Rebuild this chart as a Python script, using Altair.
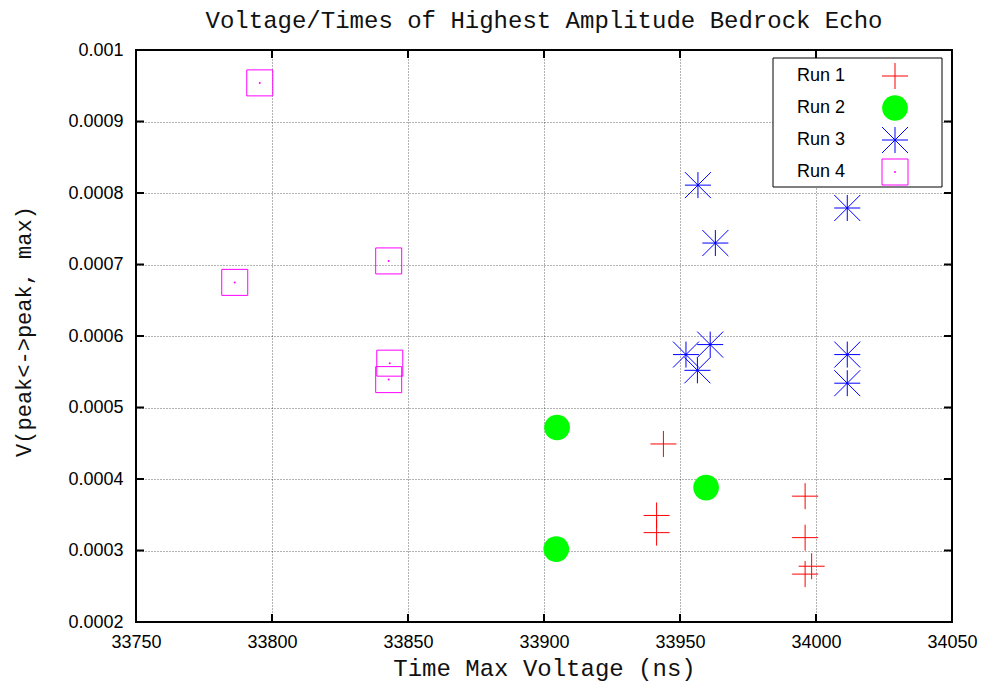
import altair as alt
import pandas as pd

# ---------------- data ----------------
runs = ["Run 1", "Run 2", "Run 3", "Run 4"]

run1_x = [33943.9, 33941.4, 33941.4, 33996.0, 33996.0, 33996.0, 33998.4]
run1_y = [0.000449, 0.000349, 0.000325, 0.000376, 0.000318, 0.000267, 0.000278]

run2_x = [33904.8, 33959.6, 33904.5]
run2_y = [0.000472, 0.000388, 0.000302]

run3_x = [33956.6, 33963.0, 34011.5, 33952.2, 33961.1, 33956.4, 34011.5, 34011.5]
run3_y = [0.000811, 0.000730, 0.000779, 0.000574, 0.000588, 0.000552, 0.000574, 0.000534]

run4_x = [33795.5, 33786.3, 33842.9, 33843.3, 33842.9]
run4_y = [0.000954, 0.000675, 0.000705, 0.000562, 0.000539]

x_ticks = [33750, 33800, 33850, 33900, 33950, 34000, 34050]
y_ticks = [0.0002, 0.0003, 0.0004, 0.0005, 0.0006, 0.0007, 0.0008, 0.0009, 0.001]

title_text = "Voltage/Times of Highest Amplitude Bedrock Echo"
x_title = "Time Max Voltage (ns)"
y_title = "V(peak<->peak, max)"

# ---------------- build tables ----------------
rows = []
for name, xs_, ys_ in [("Run 1", run1_x, run1_y), ("Run 2", run2_x, run2_y),
                       ("Run 3", run3_x, run3_y), ("Run 4", run4_x, run4_y)]:
    for a, b in zip(xs_, ys_):
        rows.append({"run": name, "x": a, "y": b})
df = pd.DataFrame(rows)
xt_df = pd.DataFrame({"x": x_ticks[1:-1]})
yt_df = pd.DataFrame({"y": y_ticks[1:-1]})
leg_df = pd.DataFrame({"run": runs})
box_df = pd.DataFrame({"k": [0]})

W, H = 816, 572
SIZE = 676
PLUS = "M-1,0L1,0M0,-1L0,1"
ASTER = "M-1,0L1,0M0,-1L0,1M-1,-1L1,1M-1,1L1,-1"

xscale = alt.Scale(domain=[33750, 34050], nice=False, zero=False)
yscale = alt.Scale(domain=[0.0002, 0.001], nice=False, zero=False)
color_scale = alt.Scale(domain=runs, range=["#ff0000", "#00ff00", "#0000ff", "#ff00ff"])
shape_scale = alt.Scale(domain=runs, range=[PLUS, "circle", ASTER, "square"])

x_axis = alt.Axis(values=x_ticks, format="d", labelPadding=11, labelFlush=False,
                  labelOverlap=False, title=x_title, titleY=53,
                  titleBaseline="alphabetic")
y_axis = alt.Axis(values=y_ticks, format="~g", labelPadding=13, labelFlush=False,
                  labelOverlap=False, title=y_title, titleX=-106, titleY=281,
                  titleAngle=270, titleBaseline="alphabetic", titleAlign="center",
                  titleFontSize=22)

X = alt.X("x:Q", scale=xscale, axis=x_axis)
Y_main = alt.Y("y:Q", scale=yscale, axis=y_axis)
Y_plain = alt.Y("y:Q", scale=yscale, axis=None)
C = alt.Color("run:N", scale=color_scale, legend=None)
S = alt.Shape("run:N", scale=shape_scale, legend=None)

base = alt.Chart(df)
pts_open = base.transform_filter(alt.datum.run != "Run 2").mark_point(
    filled=False, size=SIZE, strokeWidth=1, opacity=1
).encode(x=X, y=Y_main, color=C, shape=S)

pts_fill = base.transform_filter(alt.datum.run == "Run 2").mark_point(
    filled=True, size=660, opacity=1
).encode(x=X, y=Y_plain, color=C, shape=S)

pts_dot = base.transform_filter(
    (alt.datum.run == "Run 3") | (alt.datum.run == "Run 4")
).mark_circle(size=4, opacity=1).encode(x=X, y=Y_plain, color=C)

# inward ticks (gnuplot style) on all four sides
tick_style = dict(color="black", strokeWidth=2)
tick_bottom = alt.Chart(xt_df).mark_rule(**tick_style).encode(
    x=X, y=alt.value(H), y2=alt.value(H - 8))
tick_top = alt.Chart(xt_df).mark_rule(**tick_style).encode(
    x=X, y=alt.value(0), y2=alt.value(8))
tick_left = alt.Chart(yt_df).mark_rule(**tick_style).encode(
    y=Y_plain, x=alt.value(0), x2=alt.value(8))
tick_right = alt.Chart(yt_df).mark_rule(**tick_style).encode(
    y=Y_plain, x=alt.value(W - 8), x2=alt.value(W))

# legend (gnuplot style: text left, symbol right)
leg_box = alt.Chart(box_df).mark_rect(fill="white", stroke="black", strokeWidth=1).encode(
    x=alt.value(637), x2=alt.value(806), y=alt.value(8), y2=alt.value(137))
LY = alt.Y("run:N", scale=alt.Scale(type="point", domain=runs, range=[26, 122], padding=0),
           axis=None)
leg_text = alt.Chart(leg_df).mark_text(
    align="left", baseline="middle", font="Liberation Sans", fontSize=18, color="black"
).encode(x=alt.value(661), y=LY, text="run:N")
leg_open = alt.Chart(leg_df).transform_filter(alt.datum.run != "Run 2").mark_point(
    filled=False, size=SIZE, strokeWidth=1, opacity=1
).encode(x=alt.value(759), y=LY, color=C, shape=S)
leg_fill = alt.Chart(leg_df).transform_filter(alt.datum.run == "Run 2").mark_point(
    filled=True, size=660, opacity=1
).encode(x=alt.value(759), y=LY, color=C, shape=S)
leg_dot = alt.Chart(leg_df).transform_filter(
    (alt.datum.run == "Run 3") | (alt.datum.run == "Run 4")
).mark_circle(size=4, opacity=1).encode(x=alt.value(759), y=LY, color=C)

chart = alt.layer(
    pts_open, pts_fill, pts_dot,
    tick_bottom, tick_top, tick_left, tick_right,
    leg_box, leg_text, leg_open, leg_fill, leg_dot,
).resolve_scale(y="independent").properties(
    width=W, height=H,
    background="white",
    autosize=alt.AutoSizeParams(type="none"),
    padding={"left": 136, "top": 50, "right": 30, "bottom": 62},
    title=alt.TitleParams(title_text, font="Liberation Mono", fontSize=24,
                          fontWeight="normal", color="#111111", anchor="middle",
                          baseline="alphabetic", offset=20, frame="group", dy=31),
).configure_view(
    stroke="black", strokeWidth=2
).configure_axis(
    labelFont="Liberation Sans", labelFontSize=18, labelColor="black",
    titleFont="Liberation Mono", titleFontSize=24, titleFontWeight="normal",
    titleColor="#111111", domain=False, ticks=False, grid=True,
    gridDash=[1, 2], gridColor="black", gridOpacity=0.6, gridWidth=1,
)

chart.save("out.html", embed_options={"renderer": "svg", "actions": False})
